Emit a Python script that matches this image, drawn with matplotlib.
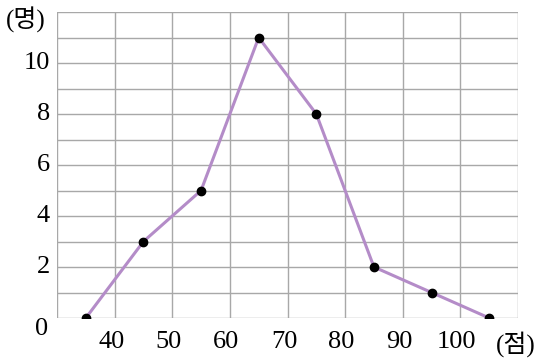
import numpy as np
import matplotlib.pyplot as plt

scores = [35, 45, 55, 65, 75, 85, 95, 105]
counts = [0, 3, 5, 11, 8, 2, 1, 0]
x_ticks = [40, 50, 60, 70, 80, 90, 100]
y_ticks = [2, 4, 6, 8, 10]

plt.rcParams['font.family'] = ['Liberation Serif', 'Noto Sans CJK KR']

fig = plt.figure(figsize=(5.44, 3.59), dpi=100)
ax = fig.add_axes([57 / 544, 41 / 359, 461 / 544, 306 / 359])

ax.set_xlim(30, 110)
ax.set_ylim(0, 12)

# grid
for gx in np.arange(30, 111, 10):
    ax.axvline(gx, color='#a8a8a8', lw=1.0, zorder=1)
for gy in np.arange(0, 13, 1):
    ax.axhline(gy, color='#a8a8a8', lw=1.0, zorder=1)

ax.plot(scores, counts, color='#b48cc8', lw=2.2, zorder=2)
ax.plot(scores, counts, 'o', color='black', ms=6, zorder=3)

for s in ax.spines.values():
    s.set_visible(False)
ax.set_xticks([])
ax.set_yticks([])

fs = 19
for v in x_ticks:
    ax.text(v - 0.6, -0.5, str(v), ha='center', va='top', fontsize=fs)
for v in y_ticks:
    ax.text(-0.015, v, str(v), ha='right', va='center', fontsize=fs,
            transform=ax.get_yaxis_transform())
ax.text(-0.02, -0.45, '0', ha='right', va='center', fontsize=fs,
        transform=ax.get_yaxis_transform())
ax.text(-0.025, 11.7, '(명)', ha='right', va='center', fontsize=fs - 1,
        transform=ax.get_yaxis_transform())
ax.text(106.2, -0.5, '(점)', ha='left', va='top', fontsize=fs - 1)

fig.savefig('out.png', dpi=100)
